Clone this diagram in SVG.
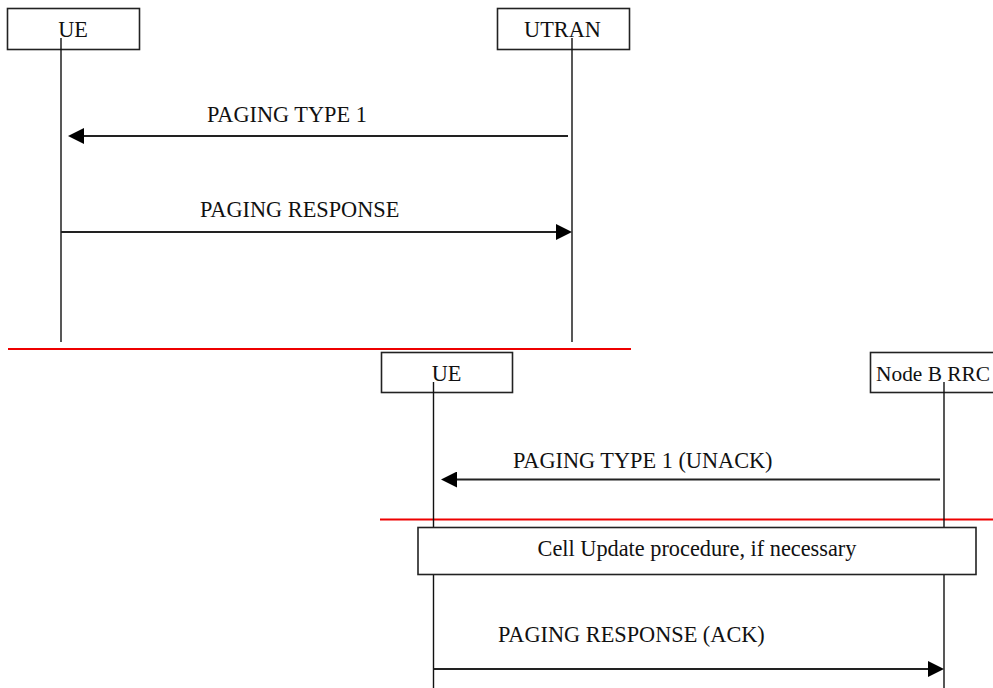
<svg xmlns="http://www.w3.org/2000/svg" width="993" height="688" viewBox="0 0 993 688">
<style>
  .box{fill:#fff;stroke:#222;stroke-width:1.6}
  .life{stroke:#111;stroke-width:1.4;fill:none}
  .msg{stroke:#222;stroke-width:2;fill:none;marker-end:url(#ah)}
  .sep{stroke:#e00;stroke-width:2}
  text{font-family:"Liberation Serif","Times New Roman",serif;font-size:22.3px;fill:#111}
  .c{text-anchor:middle}
  .edge{font-size:21.4px}
</style>
<defs>
  <marker id="ah" markerUnits="userSpaceOnUse" markerWidth="16" markerHeight="16" viewBox="0 0 16 16" refX="12" refY="8" orient="auto">
    <path d="M0,0 L16,8 L0,16 z" fill="#000"/>
  </marker>
</defs>
<rect width="993" height="688" fill="#fff"/>

<g id="separators">
  <line class="sep" x1="8" y1="349" x2="631" y2="349"/>
  <line class="sep" x1="380" y1="519.5" x2="993" y2="519.5"/>
</g>

<g id="node-ue1">
  <rect class="box" x="7.5" y="8.5" width="132" height="41"/>
  <text class="c" x="73" y="37">UE</text>
</g>
<g id="node-utran">
  <rect class="box" x="497.5" y="8.5" width="132" height="41"/>
  <text class="c" x="562.5" y="37">UTRAN</text>
</g>
<g id="node-ue2">
  <rect class="box" x="381.5" y="352.5" width="131" height="40"/>
  <text class="c" x="446.5" y="381">UE</text>
</g>
<g id="node-nodeb">
  <rect class="box" x="870.5" y="352.5" width="132" height="40"/>
  <text class="edge" x="876" y="381">Node B RRC</text>
</g>

<g id="lifelines">
  <line class="life" x1="61" y1="38" x2="61" y2="342"/>
  <line class="life" x1="572" y1="38" x2="572" y2="342"/>
  <line class="life" x1="433.5" y1="382" x2="433.5" y2="688"/>
  <line class="life" x1="944" y1="382" x2="944" y2="688"/>
</g>

<g id="node-cellupdate">
  <rect class="box" x="418" y="527.5" width="558" height="47"/>
  <text class="c" x="697" y="556">Cell Update procedure, if necessary</text>
</g>

<g id="connectors">
  <line class="msg" x1="568" y1="136" x2="72" y2="136"/>
  <text x="207" y="122">PAGING TYPE 1</text>
  <line class="msg" x1="61" y1="232" x2="568" y2="232"/>
  <text x="200" y="217">PAGING RESPONSE</text>
  <line class="msg" x1="940" y1="479.5" x2="445" y2="479.5"/>
  <text x="513" y="468">PAGING TYPE 1 (UNACK)</text>
  <line class="msg" x1="433.5" y1="669" x2="940" y2="669"/>
  <text x="498" y="642">PAGING RESPONSE (ACK)</text>
</g>
</svg>
